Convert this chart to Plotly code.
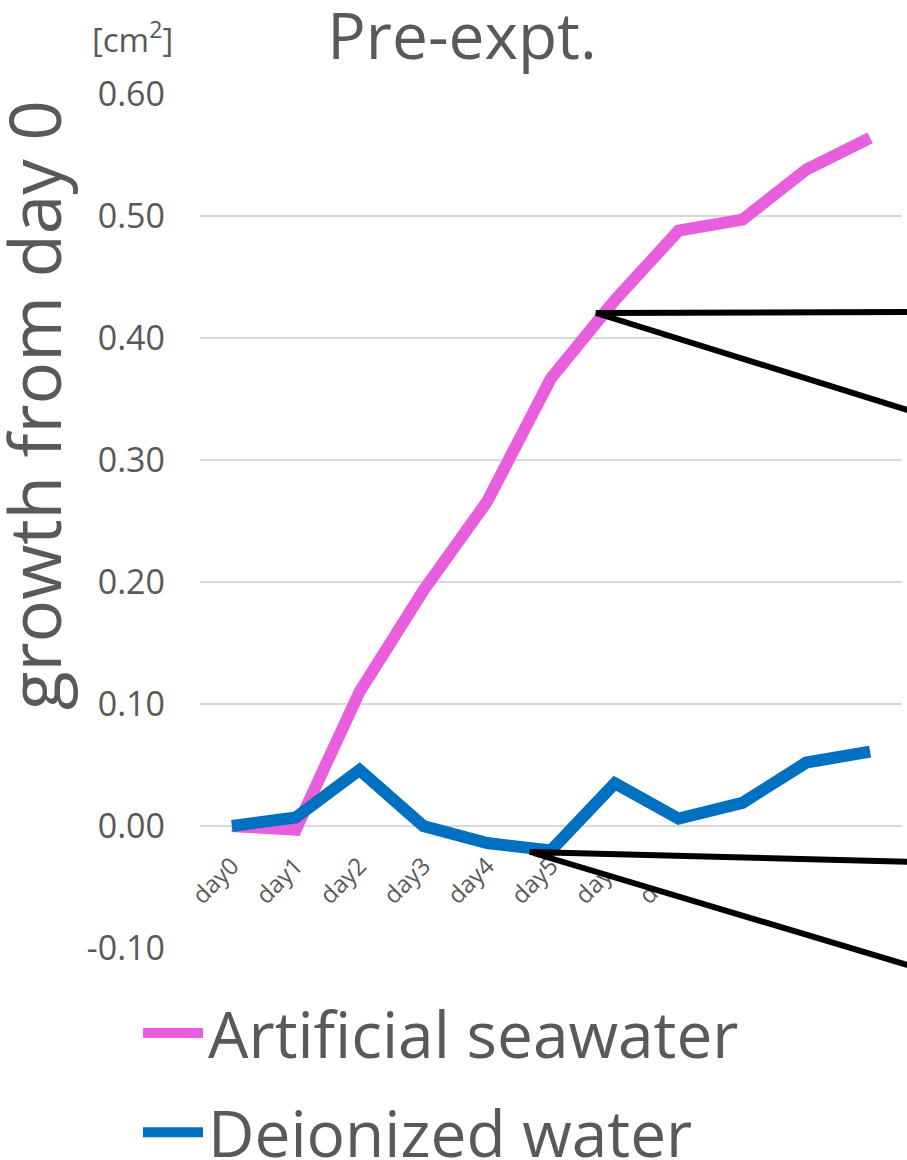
import plotly.graph_objects as go

days = ["day0", "day1", "day2", "day3", "day4", "day5", "day6", "day7", "day8", "day9", "day10"]
seawater = [0.000, -0.003, 0.110, 0.193, 0.266, 0.367, 0.431, 0.488, 0.497, 0.538, 0.564]
deionized = [0.000, 0.007, 0.046, 0.000, -0.014, -0.020, 0.035, 0.006, 0.019, 0.052, 0.061]
y_ticks = [-0.10, 0.00, 0.10, 0.20, 0.30, 0.40, 0.50, 0.60]
y_tick_text = ["-0.10", "0.00", "0.10", "0.20", "0.30", "0.40", "0.50", "0.60"]

W, H = 907, 1160
L, R, T, B = 200, 5, 94, 212
FONT = "Open Sans"
GRAY = "#595959"

def px(x):
    return (x - L) / (W - L - R)

def py(y):
    return (H - B - y) / (H - T - B)

fig = go.Figure()
fig.add_trace(go.Scatter(x=days, y=seawater, mode="lines", name="Artificial seawater",
                         legendgroup="a", line=dict(color="#E95EDC", width=12)))
fig.add_trace(go.Scatter(x=days, y=deionized, mode="lines", name="Deionized water",
                         legendgroup="b", line=dict(color="#0070C0", width=12)))

# callout wedges (white fill, black outline) extending off the right edge
def wedge(ax, ay, y1, y2):
    return dict(type="path", xref="paper", yref="paper", layer="above",
                path=f"M{px(ax)},{py(ay)} L{px(914)},{py(y1)} L{px(914)},{py(y2)} Z",
                fillcolor="white", line=dict(color="black", width=6))

fig.update_layout(
    width=W, height=H,
    margin=dict(l=L, r=R, t=T, b=B, autoexpand=False),
    plot_bgcolor="white", paper_bgcolor="white",
    font=dict(family=FONT, color=GRAY),
    title=dict(text="Pre-expt.", x=462 / W, y=1 - 37 / H, xanchor="center", yanchor="middle",
               font=dict(size=64, color=GRAY, family=FONT)),
    xaxis=dict(type="category", range=[-0.5, 10.5], showgrid=False, showline=False,
               zeroline=False, anchor="free", position=0.1 / 0.7, tickangle=-45,
               tickfont=dict(size=24, color=GRAY), ticks="", ticklabelstandoff=20),
    yaxis=dict(range=[-0.1, 0.6], tickvals=y_ticks, ticktext=y_tick_text,
               showgrid=True, gridcolor="#D9D9D9", gridwidth=2, zeroline=False,
               showline=False, tickfont=dict(size=34, color=GRAY), ticks="",
               ticklabelstandoff=34),
    showlegend=True,
    legend=dict(x=px(138), y=py(985), xanchor="left", yanchor="top",
                font=dict(size=64, color=GRAY, family=FONT), itemwidth=60,
                traceorder="grouped", tracegroupgap=13, bgcolor="rgba(0,0,0,0)"),
    shapes=[wedge(596, 313, 312, 412), wedge(530, 852, 862, 967)],
    annotations=[
        dict(text="growth from day 0", xref="paper", yref="paper", x=px(34), y=py(405),
             xanchor="center", yanchor="middle",
             textangle=-90, showarrow=False, font=dict(size=71, color=GRAY, family=FONT)),
        dict(text="[cm<sup>2</sup>]", xref="paper", yref="paper", x=px(132), y=py(38),
             xanchor="center", yanchor="middle",
             showarrow=False, font=dict(size=33, color=GRAY, family=FONT)),
    ],
)

fig.write_html("out.html", config={"displayModeBar": False},
               post_script="document.body.style.margin='0';document.body.style.overflow='hidden';")
